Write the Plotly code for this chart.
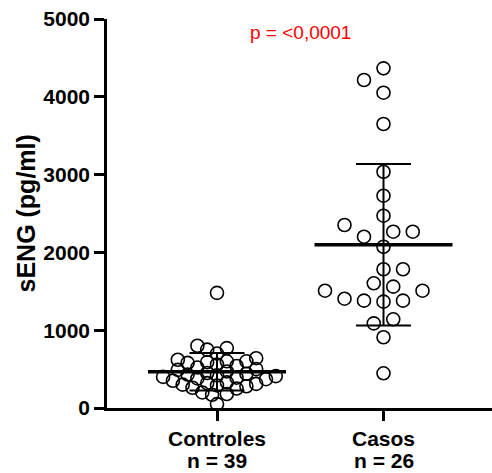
import numpy as np
import plotly.graph_objects as go

# ---------------- data ----------------
categories = ["Controles", "Casos"]
controles = [1480, 800, 770, 750, 700, 640, 620, 600, 600, 590, 580, 560, 540,
             520, 500, 490, 470, 450, 440, 430, 420, 410, 400, 390, 380, 370,
             350, 330, 320, 310, 300, 290, 280, 260, 250, 200, 180, 170, 50]
casos = [4366, 4216, 4053, 3650, 3037, 2729, 2472, 2352, 2266, 2266, 2202,
         2073, 1783, 1783, 1603, 1560, 1508, 1508, 1380, 1380, 1367, 1405,
         1088, 1140, 909, 446]
p_text = "p = <0,0001"
y_tickvals = [0, 1000, 2000, 3000, 4000, 5000]
y_title = "sENG (pg/ml)"

# ---------------- layout constants ----------------
W, H = 492, 473
ML, MR, MT, MB = 107, 0, 19, 65
X_RANGE = [0.3393, 2.6517]
Y_RANGE = [0, 5000]
PW, PH = W - ML - MR, H - MT - MB
px_x = PW / (X_RANGE[1] - X_RANGE[0])
px_y = PH / (Y_RANGE[1] - Y_RANGE[0])
FONT = "Liberation Sans, Arial, Helvetica, sans-serif"


def swarm(vals, dmin, step):
    """Deterministic beeswarm offsets (pixels) on a grid of `step`."""
    vals = np.asarray(vals, float)
    order = np.argsort(vals, kind="stable")
    placed = []
    offs = np.zeros(len(vals))
    flip = False
    for i in order:
        y = vals[i] * px_y
        k = 0
        while True:
            m = k * step
            cands = [0.0] if k == 0 else ([-m, m] if not flip else [m, -m])
            ok = None
            for c in cands:
                if all((c - px) ** 2 + (y - py) ** 2 >= dmin ** 2 - 1e-9
                       for px, py in placed):
                    ok = c
                    break
            if ok is not None:
                break
            k += 1
        if ok != 0:
            flip = not flip
        placed.append((ok, y))
        offs[i] = ok
    return offs


groups = [controles, casos]
swarm_params = [(10.0, 4.9), (17.0, 9.75)]

fig = go.Figure()
MEAN_HALF = 69 / px_x
CAP_HALF = 27.5 / px_x

for gi, (vals, (dmin, step)) in enumerate(zip(groups, swarm_params)):
    xc = gi + 1
    offs = swarm(vals, dmin, step)
    xs = xc + offs / px_x
    fig.add_trace(go.Scatter(
        x=xs, y=vals, mode="markers",
        marker=dict(symbol="circle-open", size=13, color="black",
                    line=dict(width=1.6, color="black")),
        hoverinfo="y", showlegend=False))
    m = float(np.mean(vals))
    sd = float(np.std(vals, ddof=1))
    # SD bar and caps
    fig.add_trace(go.Scatter(
        x=[xc, xc, None, xc - CAP_HALF, xc + CAP_HALF, None, xc - CAP_HALF, xc + CAP_HALF],
        y=[m - sd, m + sd, None, m + sd, m + sd, None, m - sd, m - sd],
        mode="lines", line=dict(color="black", width=2),
        hoverinfo="skip", showlegend=False))
    # mean line
    fig.add_trace(go.Scatter(
        x=[xc - MEAN_HALF, xc + MEAN_HALF], y=[m, m],
        mode="lines", line=dict(color="black", width=3.5),
        hoverinfo="skip", showlegend=False))

annotations = [
    dict(text=p_text, xref="paper", yref="paper",
         x=(300 - ML) / PW, y=(H - MB - 32) / PH,
         xanchor="center", yanchor="middle", showarrow=False,
         font=dict(family=FONT, size=19, color="#ff0000")),
    dict(text=y_title, xref="paper", yref="paper",
         x=(25 - ML) / PW, y=0.5, textangle=-90,
         xanchor="center", yanchor="middle", showarrow=False,
         font=dict(family=FONT, size=25, weight="bold", color="black")),
]
# second line of the category labels: group sizes
for gi, vals in enumerate(groups):
    annotations.append(dict(
        text=f"n = {len(vals)}", xref="x", yref="paper",
        x=gi + 1, y=-(461 - (H - MB)) / PH,
        xanchor="center", yanchor="middle", showarrow=False,
        font=dict(family=FONT, size=21, weight="bold", color="black")))

fig.update_layout(
    width=W, height=H,
    margin=dict(l=ML, r=MR, t=MT, b=MB, pad=0, autoexpand=False),
    paper_bgcolor="white", plot_bgcolor="white",
    font=dict(family=FONT, color="black"),
    xaxis=dict(range=X_RANGE, tickvals=[1, 2], ticktext=categories,
               automargin=False,
               showline=True, linecolor="black", linewidth=2.5,
               ticks="outside", ticklen=10, tickwidth=2.5, tickcolor="black",
               showgrid=False, zeroline=False,
               tickfont=dict(family=FONT, size=21, weight="bold", color="black")),
    yaxis=dict(range=Y_RANGE, tickvals=y_tickvals, automargin=False,
               showline=True, linecolor="black", linewidth=2.5,
               ticks="outside", ticklen=10, tickwidth=2.5, tickcolor="black",
               showgrid=False, zeroline=False,
               tickfont=dict(family=FONT, size=21, weight="bold", color="black")),
    annotations=annotations,
)

fig.write_html("out.html")
